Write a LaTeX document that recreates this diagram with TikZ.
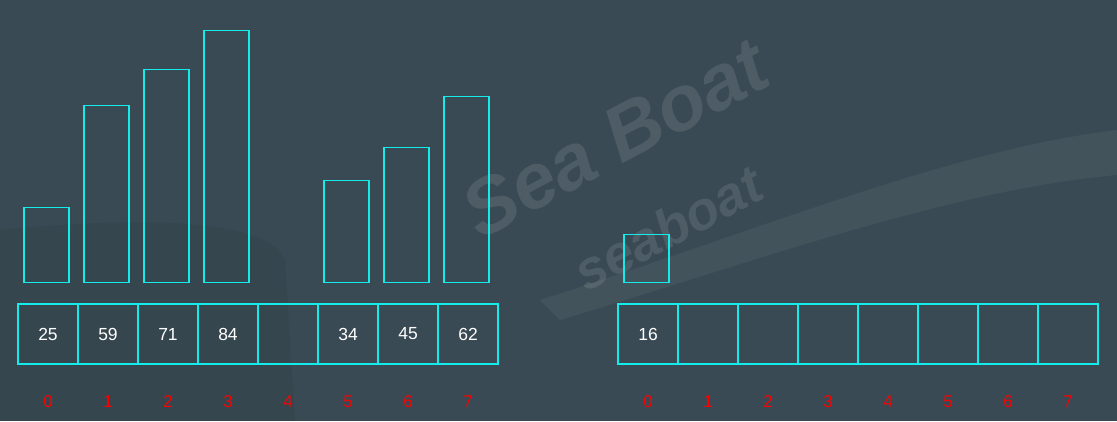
\documentclass[tikz,border=0pt]{standalone}
\usepackage{fontspec}
\setmainfont{Liberation Sans}
\begin{document}
\begin{tikzpicture}[x=1pt,y=-1pt,
  cellbox/.style={draw=cyanline,line width=1.3pt,minimum width=60pt,minimum height=60pt,inner sep=0pt,
    text=white,font=\fontsize{17.5}{20}\selectfont},
  barbox/.style={draw=cyanline,line width=1.3pt,minimum width=45pt,inner sep=0pt,anchor=south},
  idx/.style={text=idxred,font=\fontsize{17}{20}\selectfont,inner sep=0pt},
  wmark/.style={text=white,opacity=0.10,inner sep=0pt}]
\definecolor{cyanline}{RGB}{20,235,235}
\definecolor{idxred}{RGB}{255,0,0}
\definecolor{bgcol}{RGB}{57,74,84}
\useasboundingbox (0,0) rectangle (1117,421);
\fill[bgcol] (0,0) rectangle (1117,421);
% faint background swoosh
\fill[white,opacity=0.05] (540,300) .. controls (760,230) and (950,150) .. (1117,130) -- (1117,175) .. controls (950,190) and (760,260) .. (560,320) -- cycle;
\fill[black,opacity=0.05] (0,230) .. controls (150,215) and (270,220) .. (285,260) -- (295,421) -- (0,421) -- cycle;
% watermark
\node[wmark,rotate=28,font=\bfseries\itshape\fontsize{78}{80}\selectfont] (wm1) at (615,138) {Sea Boat};
\node[wmark,rotate=28,font=\bfseries\itshape\fontsize{54}{60}\selectfont] (wm2) at (668,228) {seaboat};
% left array
\foreach \i/\v in {0/25,1/59,2/71,3/84,4/,5/34,6/45,7/62}{
  \node[cellbox] (L\i) at (48+60*\i,334) {\v};
  \node[idx] (LI\i) at (48+60*\i,402) {\i};
}
\foreach \i/\v in {0/25,1/59,2/71,3/84,5/34,6/45,7/62}{
  \node[barbox,minimum height=3*\v pt] (LB\i) at (46.5+60*\i,283) {};
}
% right array
\foreach \i/\v in {0/16,1/,2/,3/,4/,5/,6/,7/}{
  \node[cellbox] (R\i) at (648+60*\i,334) {\v};
  \node[idx] (RI\i) at (648+60*\i,402) {\i};
}
\node[barbox,minimum height=48pt] (RB0) at (646.5,283) {};
\end{tikzpicture}
\end{document}
